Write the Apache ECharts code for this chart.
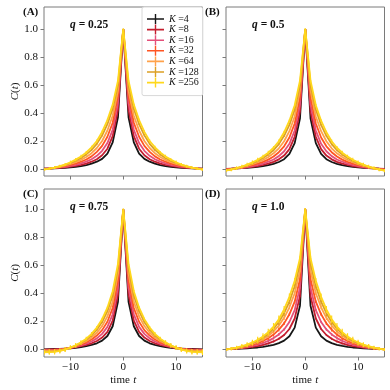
<!DOCTYPE html>
<html>
<head>
<meta charset="utf-8">
<script src="https://cdn.jsdelivr.net/npm/echarts@6/dist/echarts.min.js"></script>
<style>
  html, body { margin: 0; padding: 0; background: #fff; }
  #chart { width: 390px; height: 390px; }
</style>
</head>
<body>
<div id="chart"></div>
<script>
// lags t = 0..15 (curves are symmetric in t)
const lags = [0, 1, 2, 3, 4, 5, 6, 7, 8, 9, 10, 11, 12, 13, 14, 15]
const kValues = [4, 8, 16, 32, 64, 128, 256]
const kColors = ['#161616', '#c41e2e', '#e4507a', '#ff5522', '#ffa24a', '#dca024', '#ffd81c']
const qLabels = ['0.25', '0.5', '0.75', '1.0']
const panelTags = ['(A)', '(B)', '(C)', '(D)']
const yTicks = [0, 0.2, 0.4, 0.6, 0.8, 1.0]
const xTicks = [-10, 0, 10]

// C(t) per K, q = 0.25
const cA = [
  [1, 0.37, 0.19, 0.11, 0.072, 0.052, 0.038, 0.028, 0.021, 0.016, 0.012, 0.009, 0.007, 0.005, 0.003, 0.002],
  [1, 0.42, 0.235, 0.145, 0.098, 0.07, 0.052, 0.039, 0.03, 0.022, 0.017, 0.012, 0.009, 0.006, 0.004, 0.002],
  [1, 0.47, 0.28, 0.185, 0.13, 0.094, 0.07, 0.053, 0.04, 0.03, 0.022, 0.016, 0.011, 0.007, 0.004, 0.001],
  [1, 0.52, 0.33, 0.23, 0.165, 0.122, 0.09, 0.068, 0.052, 0.039, 0.029, 0.02, 0.013, 0.008, 0.003, 0],
  [1, 0.56, 0.38, 0.275, 0.2, 0.15, 0.113, 0.086, 0.065, 0.049, 0.036, 0.025, 0.016, 0.009, 0.003, -0.002],
  [1, 0.6, 0.43, 0.32, 0.24, 0.18, 0.137, 0.104, 0.079, 0.059, 0.043, 0.03, 0.019, 0.01, 0.003, -0.003],
  [1, 0.63, 0.46, 0.35, 0.265, 0.2, 0.155, 0.118, 0.09, 0.067, 0.048, 0.032, 0.02, 0.01, 0.003, -0.004]
]
// q = 0.5
const cB = [
  [1, 0.36, 0.185, 0.108, 0.07, 0.05, 0.037, 0.027, 0.02, 0.015, 0.011, 0.008, 0.006, 0.004, 0.002, 0.001],
  [1, 0.41, 0.23, 0.142, 0.096, 0.069, 0.051, 0.038, 0.029, 0.021, 0.016, 0.011, 0.007, 0.004, 0.002, 0],
  [1, 0.46, 0.275, 0.18, 0.127, 0.092, 0.068, 0.052, 0.039, 0.029, 0.021, 0.014, 0.009, 0.005, 0.001, -0.002],
  [1, 0.51, 0.325, 0.225, 0.162, 0.12, 0.089, 0.067, 0.051, 0.038, 0.027, 0.018, 0.011, 0.005, 0, -0.004],
  [1, 0.56, 0.375, 0.27, 0.198, 0.148, 0.112, 0.085, 0.064, 0.048, 0.034, 0.023, 0.013, 0.005, -0.002, -0.006],
  [1, 0.6, 0.425, 0.315, 0.237, 0.178, 0.135, 0.103, 0.078, 0.058, 0.041, 0.027, 0.015, 0.006, -0.003, -0.009],
  [1, 0.63, 0.455, 0.345, 0.262, 0.198, 0.152, 0.117, 0.089, 0.066, 0.047, 0.031, 0.017, 0.006, -0.004, -0.012]
]
// q = 0.75
const cC = [
  [1, 0.34, 0.165, 0.095, 0.062, 0.043, 0.031, 0.022, 0.016, 0.011, 0.007, 0.005, 0.003, 0.002, 0.001, 0],
  [1, 0.39, 0.205, 0.125, 0.084, 0.059, 0.043, 0.031, 0.022, 0.015, 0.009, 0.005, 0.002, 0, -0.001, -0.002],
  [1, 0.44, 0.25, 0.16, 0.11, 0.078, 0.056, 0.04, 0.028, 0.018, 0.01, 0.004, 0, -0.003, -0.004, -0.005],
  [1, 0.49, 0.295, 0.197, 0.137, 0.098, 0.07, 0.05, 0.034, 0.021, 0.011, 0.003, -0.003, -0.006, -0.008, -0.008],
  [1, 0.54, 0.34, 0.235, 0.166, 0.118, 0.085, 0.06, 0.04, 0.024, 0.011, 0.001, -0.006, -0.01, -0.012, -0.012],
  [1, 0.58, 0.385, 0.272, 0.195, 0.14, 0.1, 0.07, 0.046, 0.027, 0.011, -0.001, -0.01, -0.015, -0.017, -0.017],
  [1, 0.61, 0.415, 0.297, 0.215, 0.155, 0.11, 0.076, 0.05, 0.029, 0.012, -0.002, -0.012, -0.018, -0.02, -0.021]
]
// q = 1.0
const cD = [
  [1, 0.31, 0.155, 0.093, 0.062, 0.044, 0.032, 0.024, 0.018, 0.013, 0.01, 0.007, 0.005, 0.003, 0.002, 0.001],
  [1, 0.38, 0.22, 0.145, 0.102, 0.075, 0.056, 0.042, 0.031, 0.023, 0.017, 0.012, 0.008, 0.005, 0.003, 0.001],
  [1, 0.44, 0.28, 0.195, 0.142, 0.106, 0.08, 0.06, 0.045, 0.033, 0.024, 0.016, 0.01, 0.006, 0.003, 0.001],
  [1, 0.5, 0.34, 0.25, 0.185, 0.14, 0.105, 0.079, 0.059, 0.044, 0.031, 0.021, 0.013, 0.007, 0.003, 0],
  [1, 0.56, 0.4, 0.3, 0.225, 0.17, 0.128, 0.096, 0.072, 0.053, 0.038, 0.026, 0.016, 0.009, 0.003, -0.001],
  [1, 0.61, 0.45, 0.34, 0.258, 0.195, 0.147, 0.111, 0.083, 0.061, 0.044, 0.03, 0.019, 0.01, 0.004, -0.002],
  [1, 0.65, 0.49, 0.375, 0.285, 0.215, 0.162, 0.122, 0.092, 0.068, 0.049, 0.034, 0.022, 0.012, 0.005, -0.002]
]

// error bars (only the large-K ones are visible), null = none
const errA = [null, null, null, null, null,
  [0.003, 0.004, 0.005, 0.006, 0.007, 0.007, 0.008, 0.008, 0.008, 0.008, 0.008, 0.008, 0.007, 0.007, 0.007, 0.006],
  [0.004, 0.006, 0.008, 0.009, 0.01, 0.01, 0.011, 0.011, 0.012, 0.012, 0.012, 0.011, 0.011, 0.01, 0.01, 0.009]]
const errB = [null, null, null, null, null,
  [0.004, 0.005, 0.006, 0.007, 0.008, 0.008, 0.009, 0.009, 0.01, 0.01, 0.01, 0.01, 0.009, 0.009, 0.008, 0.008],
  [0.005, 0.007, 0.009, 0.01, 0.011, 0.012, 0.012, 0.013, 0.013, 0.014, 0.014, 0.014, 0.013, 0.013, 0.012, 0.012]]
const errC = [null, null, null, null,
  [0.003, 0.004, 0.005, 0.006, 0.007, 0.008, 0.008, 0.009, 0.009, 0.01, 0.01, 0.01, 0.01, 0.01, 0.01, 0.01],
  [0.004, 0.005, 0.006, 0.008, 0.009, 0.01, 0.011, 0.012, 0.013, 0.013, 0.014, 0.014, 0.014, 0.015, 0.015, 0.015],
  [0.005, 0.007, 0.008, 0.01, 0.011, 0.012, 0.013, 0.014, 0.015, 0.016, 0.017, 0.018, 0.018, 0.019, 0.019, 0.02]]
const errD = [null,
  [0.003, 0.004, 0.005, 0.006, 0.006, 0.007, 0.007, 0.007, 0.006, 0.006, 0.005, 0.005, 0.004, 0.004, 0.003, 0.003],
  [0.004, 0.006, 0.007, 0.008, 0.009, 0.01, 0.01, 0.01, 0.009, 0.008, 0.008, 0.007, 0.006, 0.005, 0.005, 0.004],
  [0.005, 0.007, 0.009, 0.011, 0.012, 0.013, 0.013, 0.012, 0.012, 0.011, 0.01, 0.009, 0.008, 0.007, 0.006, 0.005],
  [0.006, 0.009, 0.012, 0.014, 0.016, 0.017, 0.017, 0.016, 0.015, 0.014, 0.013, 0.012, 0.01, 0.009, 0.008, 0.007],
  [0.008, 0.012, 0.015, 0.018, 0.02, 0.021, 0.021, 0.02, 0.019, 0.018, 0.016, 0.014, 0.013, 0.011, 0.01, 0.008],
  [0.01, 0.015, 0.02, 0.023, 0.025, 0.026, 0.026, 0.025, 0.023, 0.021, 0.019, 0.017, 0.015, 0.013, 0.011, 0.009]]

const panelVals = [cA, cB, cC, cD]
const panelErrs = [errA, errB, errC, errD]

const SERIF = 'Liberation Serif'
const frameColor = '#7a7a7a'
const gridPos = [
  { left: 44, top: 7, width: 158.5, height: 169 },
  { left: 226, top: 7, width: 158.5, height: 169 },
  { left: 44, top: 189, width: 158.5, height: 168 },
  { left: 226, top: 189, width: 158.5, height: 168 }
]
const yRange = [[-0.05, 1.157], [-0.05, 1.157], [-0.055, 1.145], [-0.055, 1.145]]
const crossIcon = 'path://M0,4.2H7.8V0H9.2V4.2H17V5.8H9.2V10H7.8V5.8H0Z'

// mirror the lags onto t < 0
function mirrored (vals, errs) {
  const pts = []
  for (let i = lags.length - 1; i > 0; i--) pts.push([-lags[i], vals[i], errs ? errs[i] : 0])
  for (let i = 0; i < lags.length; i++) pts.push([lags[i], vals[i], errs ? errs[i] : 0])
  return pts
}

const grids = []
const xAxes = []
const yAxes = []
const series = []

gridPos.forEach((g, p) => {
  const bottomRow = p >= 2
  const leftCol = p % 2 === 0
  grids.push(Object.assign({ show: true, borderColor: frameColor, borderWidth: 1, backgroundColor: '#fff' }, g))
  xAxes.push({
    type: 'value',
    gridIndex: p,
    min: -15,
    max: 15,
    axisLine: { show: false, onZero: false },
    splitLine: { show: false },
    axisTick: { show: true, length: 3.5, customValues: xTicks, lineStyle: { color: frameColor } },
    axisLabel: {
      show: bottomRow,
      customValues: xTicks,
      margin: 5,
      fontFamily: SERIF,
      fontSize: 11,
      color: '#111',
      formatter: v => String(v).replace('-', '\u2212')
    },
    name: bottomRow ? '{n|time} {i|t}' : '',
    nameLocation: 'middle',
    nameGap: 16,
    nameTextStyle: {
      rich: {
        n: { fontFamily: SERIF, fontSize: 11, color: '#111' },
        i: { fontFamily: SERIF, fontSize: 11, fontStyle: 'italic', color: '#111' }
      }
    }
  })
  yAxes.push({
    type: 'value',
    gridIndex: p,
    min: yRange[p][0],
    max: yRange[p][1],
    axisLine: { show: false, onZero: false },
    splitLine: { show: false },
    axisTick: { show: true, length: 3.5, customValues: yTicks, lineStyle: { color: frameColor } },
    axisLabel: {
      show: leftCol,
      customValues: yTicks,
      margin: 6,
      fontFamily: SERIF,
      fontSize: 11,
      color: '#111',
      formatter: v => v.toFixed(1)
    },
    name: leftCol ? '{i|C}({i|t})' : '',
    nameLocation: 'middle',
    nameGap: 17,
    nameTextStyle: {
      rich: {
        i: { fontFamily: SERIF, fontSize: 11, fontStyle: 'italic', color: '#111' }
      },
      fontFamily: SERIF,
      fontSize: 11,
      color: '#111'
    }
  })

  kValues.forEach((k, j) => {
    const pts = mirrored(panelVals[p][j], panelErrs[p][j])
    series.push({
      type: 'line',
      name: 'K =' + k,
      xAxisIndex: p,
      yAxisIndex: p,
      data: pts.map(d => [d[0], d[1]]),
      symbol: 'none',
      color: kColors[j],
      lineStyle: { width: 1.8, color: kColors[j] },
      z: 2 + j,
      silent: true
    })
    if (panelErrs[p][j]) {
      const col = kColors[j]
      series.push({
        type: 'custom',
        name: 'err' + p + '_' + k,
        xAxisIndex: p,
        yAxisIndex: p,
        data: pts,
        z: 2 + j,
        silent: true,
        clip: true,
        renderItem: (params, api) => {
          const x = api.value(0)
          const y = api.value(1)
          const e = api.value(2)
          const a = api.coord([x, y - e])
          const b = api.coord([x, y + e])
          return {
            type: 'line',
            shape: { x1: a[0], y1: a[1], x2: b[0], y2: b[1] },
            style: { stroke: col, lineWidth: 1.2 }
          }
        }
      })
    }
  })
})

const graphics = []
gridPos.forEach((g, p) => {
  graphics.push({
    type: 'text',
    x: g.left - 21,
    y: g.top + 0,
    style: { text: panelTags[p], font: 'bold 11px "Liberation Serif"', fill: '#111' }
  })
  graphics.push({
    type: 'text',
    x: g.left + 26,
    y: g.top + 12,
    style: {
      text: '{q|q} = ' + qLabels[p],
      font: 'bold 11.5px "Liberation Serif"',
      fill: '#111',
      rich: { q: { font: 'bold italic 11.5px "Liberation Serif"', fill: '#111' } }
    }
  })
})

const chart = echarts.init(document.getElementById('chart'))
chart.setOption({
  animation: false,
  grid: grids,
  xAxis: xAxes,
  yAxis: yAxes,
  legend: {
    left: 142,
    top: 7,
    orient: 'vertical',
    data: kValues.map(k => ({ name: 'K =' + k, icon: crossIcon })),
    itemWidth: 17,
    itemHeight: 10,
    itemGap: 0.6,
    padding: [7, 4, 8, 5],
    backgroundColor: '#fff',
    borderColor: '#d8d8d8',
    borderWidth: 1,
    borderRadius: 2,
    selectedMode: false,
    formatter: n => '{i|K} =' + n.split('=')[1],
    textStyle: {
      fontFamily: SERIF,
      fontSize: 10,
      lineHeight: 10,
      color: '#111',
      rich: {
        i: { fontFamily: SERIF, fontSize: 10, lineHeight: 10, fontStyle: 'italic', color: '#111' }
      }
    }
  },
  graphic: graphics,
  series: series
})
</script>
</body>
</html>
